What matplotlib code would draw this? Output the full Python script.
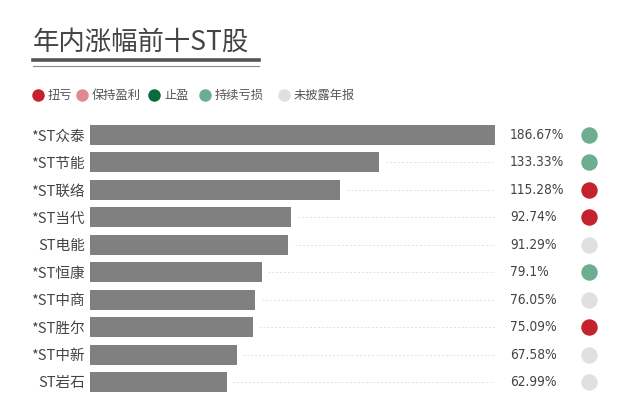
import numpy as np
import matplotlib
matplotlib.use('Agg')
import matplotlib.pyplot as plt
from matplotlib.transforms import blended_transform_factory

plt.rcParams['font.family'] = ['Noto Sans CJK SC', 'DejaVu Sans']

# data ----------------------------
names = ['*ST众泰', '*ST节能', '*ST联络', '*ST当代', 'ST电能',
         '*ST恒康', '*ST中商', '*ST胜尔', '*ST中新', 'ST岩石']
gains = [186.67, 133.33, 115.28, 92.74, 91.29, 79.1, 76.05, 75.09, 67.58, 62.99]
gain_labels = ['186.67%', '133.33%', '115.28%', '92.74%', '91.29%',
               '79.1%', '76.05%', '75.09%', '67.58%', '62.99%']
status = ['持续亏损', '持续亏损', '扭亏', '扭亏', '未披露年报',
          '持续亏损', '未披露年报', '扭亏', '未披露年报', '未披露年报']
legend_names = ['扭亏', '保持盈利', '止盈', '持续亏损', '未披露年报']
legend_colors = ['#c4222c', '#e08a90', '#0d6a3a', '#6cae8f', '#e0e0e0']
# ---------------------------------

W, H = 640, 407
fig = plt.figure(figsize=(W/100, H/100), dpi=100)
fig.patch.set_facecolor('white')

def px(x, y):
	return x / W, 1 - y / H

# title + rules
fig.text(*px(33, 42), '年内涨幅前十ST股', fontsize=19, color='#444444', va='center', ha='left')
fig.add_artist(plt.Line2D([33/W, 259/W], [1-60/H, 1-60/H], color='#555555', lw=2.6))
fig.add_artist(plt.Line2D([33/W, 259/W], [1-66/H, 1-66/H], color='#888888', lw=0.8))

# legend
color_of = dict(zip(legend_names, legend_colors))
leg_x = [38, 82, 154, 205, 284]
for x, name, c in zip(leg_x, legend_names, legend_colors):
	lx, ly = px(x, 95)
	fig.add_artist(plt.Line2D([lx], [ly], marker='o', markersize=9, color=c, mew=0,
		transform=fig.transFigure))
	fig.text(*px(x + 10, 95), name, fontsize=8.8, color='#555555', va='center', ha='left')

# bars
top, bottom = 121.3, 395.7
ax = fig.add_axes([90/W, 1-bottom/H, (495-90)/W, (bottom-top)/H])
y = np.arange(len(names))
ax.barh(y, gains, height=0.73, color='#808080')
ax.set_xlim(0, max(gains))
ax.set_ylim(len(names) - 0.5, -0.5)
for yi, g in zip(y, gains):
	if g < max(gains):
		ax.plot([g + 3, max(gains)], [yi, yi], color='#e2e2e2', lw=0.7, ls=(0, (2, 2)))

ax.set_xticks([])
ax.set_yticks(y)
ax.set_yticklabels(names, fontsize=10.5, color='#444444')
ax.tick_params(axis='y', length=0, pad=3.5)
for s in ax.spines.values():
	s.set_visible(False)

tr = blended_transform_factory(ax.transAxes, ax.transData)
for yi, lab, st in zip(y, gain_labels, status):
	ax.text((510-90)/405, yi, lab, transform=tr, fontsize=9.8, color='#444444',
		va='center', ha='left', family='DejaVu Sans', fontstretch='condensed')
	ax.scatter([(589-90)/405], [yi], s=140, color=color_of[st], transform=tr, clip_on=False, lw=0)

fig.savefig('out.png', dpi=100)
